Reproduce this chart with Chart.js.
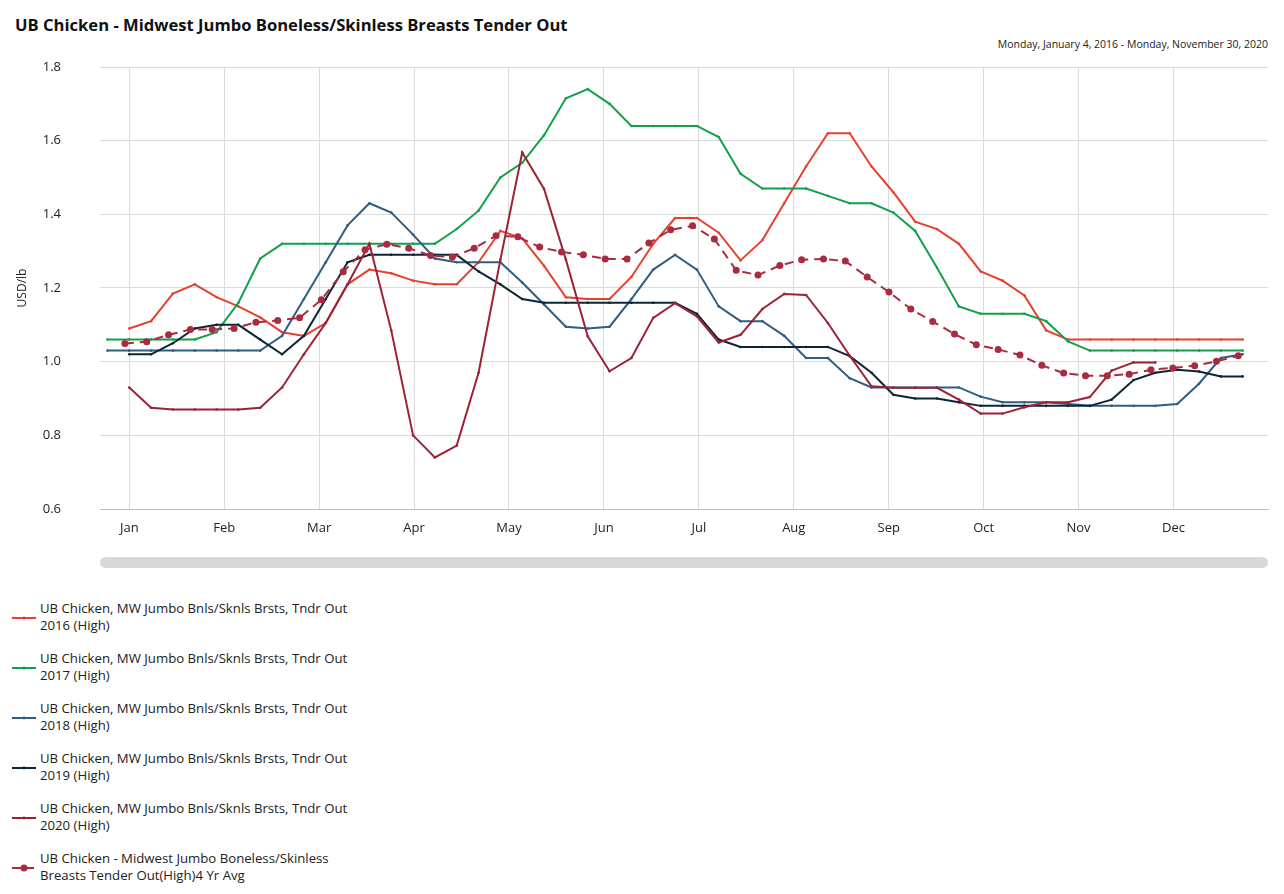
<!DOCTYPE html>
<html>
<head>
<meta charset="utf-8">
<script src="https://cdn.jsdelivr.net/npm/chart.js@4.4.1/dist/chart.umd.min.js"></script>
<style>
  html, body { margin: 0; padding: 0; background: #fff; }
  body { width: 1284px; height: 894px; position: relative; overflow: hidden; font-family: 'Open Sans', 'Noto Sans', sans-serif; color: #222; }
  #title { position: absolute; left: 15px; top: 13px; font-size: 16.6px; font-weight: 700; color: #111; }
  #range { position: absolute; right: 16px; top: 37px; font-size: 10.5px; color: #222; }
  #wrap { position: absolute; left: 0; top: 55px; width: 1284px; height: 490px; }
  #scroll { position: absolute; left: 100px; top: 557px; width: 1168px; height: 11px; border-radius: 6px; background: #d9d9d9; }
  #legend { position: absolute; left: 12px; top: 600px; }
  .item { position: relative; height: 50px; }
  .item svg { position: absolute; left: 0; top: 13px; }
  .item .txt { position: absolute; left: 28px; top: 0; font-size: 13.2px; line-height: 17px; width: 360px; white-space: nowrap; }
</style>
</head>
<body>
<div id="title">UB Chicken - Midwest Jumbo Boneless/Skinless Breasts Tender Out</div>
<div id="range">Monday, January 4, 2016 - Monday, November 30, 2020</div>
<div id="wrap"><canvas id="c"></canvas></div>
<div id="scroll"></div>
<div id="legend"></div>
<script>
// month tick labels (evenly spaced across the 52-week year)
const monthLabels = ['Jan', 'Feb', 'Mar', 'Apr', 'May', 'Jun', 'Jul', 'Aug', 'Sep', 'Oct', 'Nov', 'Dec'];
const weeksPerMonth = 365.25 / 7 / 12;

const seriesNames = [
  ['UB Chicken, MW Jumbo Bnls/Sknls Brsts, Tndr Out', '2016 (High)'],
  ['UB Chicken, MW Jumbo Bnls/Sknls Brsts, Tndr Out', '2017 (High)'],
  ['UB Chicken, MW Jumbo Bnls/Sknls Brsts, Tndr Out', '2018 (High)'],
  ['UB Chicken, MW Jumbo Bnls/Sknls Brsts, Tndr Out', '2019 (High)'],
  ['UB Chicken, MW Jumbo Bnls/Sknls Brsts, Tndr Out', '2020 (High)'],
  ['UB Chicken - Midwest Jumbo Boneless/Skinless', 'Breasts Tender Out(High)4 Yr Avg']
];
const seriesColors = ['#e6412f', '#13a04b', '#2f5d84', '#0c2636', '#9b2237', '#a82b3f'];
// week index of each series' first value
const seriesStart = [0, -1, -1, 0, 0, -0.2];

const y2016 = [1.09, 1.11, 1.185, 1.21, 1.175, 1.15, 1.12, 1.08, 1.07, 1.105, 1.21, 1.25, 1.24, 1.22, 1.21, 1.21,
  1.27, 1.355, 1.335, 1.26, 1.175, 1.17, 1.17, 1.23, 1.32, 1.39, 1.39, 1.35, 1.275, 1.33, 1.43, 1.53, 1.62, 1.62,
  1.53, 1.46, 1.38, 1.36, 1.32, 1.245, 1.22, 1.18, 1.085, 1.06, 1.06, 1.06, 1.06, 1.06, 1.06, 1.06, 1.06, 1.06];
const y2017 = [1.06, 1.06, 1.06, 1.06, 1.06, 1.08, 1.16, 1.28, 1.32, 1.32, 1.32, 1.32, 1.32, 1.32, 1.32, 1.32,
  1.36, 1.41, 1.50, 1.54, 1.615, 1.715, 1.74, 1.70, 1.64, 1.64, 1.64, 1.64, 1.61, 1.51, 1.47, 1.47, 1.47, 1.45,
  1.43, 1.43, 1.405, 1.355, 1.255, 1.15, 1.13, 1.13, 1.13, 1.11, 1.055, 1.03, 1.03, 1.03, 1.03, 1.03, 1.03, 1.03, 1.03];
const y2018 = [1.03, 1.03, 1.03, 1.03, 1.03, 1.03, 1.03, 1.03, 1.07, 1.17, 1.27, 1.37, 1.43, 1.405, 1.345, 1.28,
  1.27, 1.27, 1.27, 1.215, 1.155, 1.095, 1.09, 1.095, 1.17, 1.25, 1.29, 1.25, 1.15, 1.11, 1.11, 1.07, 1.01, 1.01,
  0.955, 0.93, 0.93, 0.93, 0.93, 0.93, 0.905, 0.89, 0.89, 0.89, 0.885, 0.88, 0.88, 0.88, 0.88, 0.885, 0.94, 1.01, 1.02];
const y2019 = [1.02, 1.02, 1.05, 1.09, 1.10, 1.10, 1.06, 1.02, 1.07, 1.17, 1.27, 1.29, 1.29, 1.29, 1.29, 1.29,
  1.245, 1.21, 1.17, 1.16, 1.16, 1.16, 1.16, 1.16, 1.16, 1.16, 1.13, 1.06, 1.04, 1.04, 1.04, 1.04, 1.04, 1.015,
  0.97, 0.91, 0.90, 0.90, 0.89, 0.88, 0.88, 0.88, 0.88, 0.88, 0.88, 0.897, 0.95, 0.97, 0.978, 0.973, 0.96, 0.96];
const y2020 = [0.93, 0.875, 0.87, 0.87, 0.87, 0.87, 0.875, 0.93, 1.02, 1.105, 1.21, 1.32, 1.085, 0.80, 0.74, 0.772,
  0.97, 1.277, 1.568, 1.469, 1.277, 1.069, 0.974, 1.01, 1.119, 1.159, 1.123, 1.052, 1.073, 1.143, 1.184, 1.181,
  1.105, 1.016, 0.933, 0.929, 0.929, 0.929, 0.897, 0.859, 0.859, 0.876, 0.89, 0.89, 0.904, 0.976, 0.998, 0.998];
const yAvg = [1.049, 1.054, 1.073, 1.087, 1.087, 1.090, 1.107, 1.112, 1.119, 1.168, 1.244, 1.304, 1.319,
  1.308, 1.288, 1.284, 1.308, 1.342, 1.339, 1.311, 1.298, 1.290, 1.279, 1.279, 1.322, 1.358,
  1.369, 1.333, 1.248, 1.235, 1.261, 1.277, 1.279, 1.273, 1.230, 1.189, 1.143, 1.109, 1.075,
  1.046, 1.033, 1.018, 0.990, 0.969, 0.962, 0.962, 0.966, 0.978, 0.983, 0.989, 1.001, 1.016];

const allValues = [y2016, y2017, y2018, y2019, y2020, yAvg];

function toPoints(vals, start) {
  return vals.map((v, i) => ({ x: start + i, y: v }));
}

const datasets = allValues.map((vals, k) => {
  const isAvg = k === 5;
  return {
    label: seriesNames[k].join(' '),
    data: toPoints(vals, seriesStart[k]),
    borderColor: seriesColors[k],
    backgroundColor: seriesColors[k],
    borderWidth: 2,
    borderDash: isAvg ? [9, 6] : [],
    pointRadius: isAvg ? 3.5 : 1.3,
    pointBorderWidth: 0,
    pointHoverRadius: 0,
    tension: 0,
    order: isAvg ? 0 : 6 - k
  };
});

Chart.defaults.font.family = "'Open Sans', 'Noto Sans', sans-serif";
Chart.defaults.color = '#333';

new Chart(document.getElementById('c'), {
  type: 'line',
  data: { datasets },
  options: {
    responsive: true,
    maintainAspectRatio: false,
    animation: false,
    layout: { padding: { top: 12, right: 16, left: 0, bottom: 0 } },
    plugins: { legend: { display: false }, tooltip: { enabled: false } },
    scales: {
      x: {
        type: 'linear',
        min: -1.34,
        max: 52.16,
        afterBuildTicks: (scale) => {
          scale.ticks = monthLabels.map((m, i) => ({ value: i * weeksPerMonth }));
        },
        afterFit: (scale) => { scale.height = 36; },
        ticks: {
          autoSkip: false,
          maxRotation: 0,
          padding: 11,
          font: { size: 13 },
          color: '#222',
          callback: (v, i) => monthLabels[i]
        },
        grid: { color: '#dcdcdc', drawTicks: false },
        border: { color: '#bdbdbd' }
      },
      y: {
        min: 0.6,
        max: 1.8,
        afterFit: (scale) => {
          scale.width = 100;
          // tick padding would otherwise also pad top/bottom
          scale.paddingTop = 8;
          scale.paddingBottom = 8;
        },
        ticks: {
          stepSize: 0.2,
          padding: 39,
          font: { size: 13 },
          color: '#222',
          callback: (v) => v.toFixed(1)
        },
        grid: { color: '#dcdcdc', drawTicks: false },
        border: { display: false },
        title: { display: true, text: 'USD/lb', font: { size: 12 }, color: '#222', padding: { top: 15, bottom: 0 } }
      }
    }
  }
});

// html legend
const legend = document.getElementById('legend');
seriesNames.forEach((lines, k) => {
  const c = seriesColors[k];
  const item = document.createElement('div');
  item.className = 'item';
  const mark = k === 5
    ? `<svg width="24" height="10"><line x1="0" y1="5" x2="24" y2="5" stroke="${c}" stroke-width="2" stroke-dasharray="9 4"/><circle cx="12" cy="5" r="3.5" fill="${c}"/></svg>`
    : `<svg width="24" height="10"><line x1="0" y1="5" x2="24" y2="5" stroke="${c}" stroke-width="2"/><circle cx="12" cy="5" r="1.4" fill="${c}"/></svg>`;
  item.innerHTML = mark + `<div class="txt">${lines[0]}<br>${lines[1]}</div>`;
  legend.appendChild(item);
});
</script>
</body>
</html>
